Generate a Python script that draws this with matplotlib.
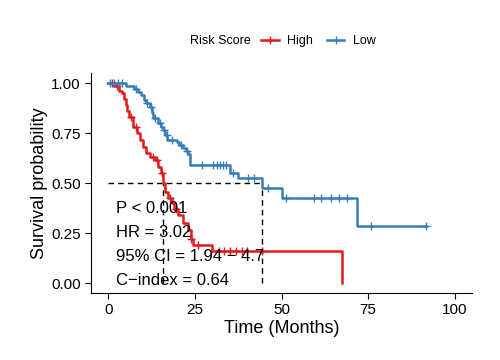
import numpy as np
import matplotlib
matplotlib.use("Agg")
import matplotlib.pyplot as plt
from matplotlib.lines import Line2D

plt.rcParams['font.family'] = ['Liberation Sans', 'DejaVu Sans']

# Kaplan-Meier steps: (time, survival after the drop)
high_time = [0, 1.5, 3.0, 4.0, 4.5, 5.0, 5.5, 6.0, 7.2, 8.3, 9.2, 10.0, 11.0, 12.0,
             13.5, 14.4, 15.2, 15.8, 16.4, 17.2, 18.4, 19.0, 20.0, 21.5, 23.0, 24.0,
             24.4, 30.0, 67.5]
high_surv = [1.0, 0.985, 0.96, 0.95, 0.92, 0.89, 0.86, 0.83, 0.78, 0.75, 0.715, 0.68,
             0.65, 0.63, 0.615, 0.58, 0.55, 0.5, 0.455, 0.425, 0.40, 0.37, 0.34, 0.30,
             0.265, 0.22, 0.19, 0.16, 0.0]
high_censor = [1.0, 2.5, 6.5, 8.0, 13.0, 14.0, 15.5, 17.8, 19.5, 24.0, 26.0,
               32.0, 33.3, 35.0, 37.0, 38.5, 40.0, 44.3]

low_time = [0, 5.0, 7.5, 8.5, 9.5, 10.2, 11.0, 12.0, 12.6, 13.0, 14.4, 15.2, 15.8,
            16.5, 17.0, 19.8, 20.5, 21.6, 22.3, 23.0, 23.6, 35.0, 37.4, 44.3, 50.0,
            71.8, 91.7]
low_surv = [1.0, 0.985, 0.97, 0.955, 0.94, 0.915, 0.9, 0.88, 0.85, 0.825, 0.80, 0.78,
            0.765, 0.74, 0.715, 0.705, 0.69, 0.675, 0.66, 0.645, 0.59, 0.55, 0.525,
            0.475, 0.425, 0.285, 0.285]
low_censor = [0.6, 1.7, 2.9, 4.0, 8.0, 11.3, 12.3, 13.5, 14.8, 16.0, 16.8, 18.5, 21.0,
              22.8, 27.0, 30.2, 31.3, 32.2, 33.0, 33.9, 36.0, 40.2, 42.2, 46.0,
              51.4, 59.5, 61.5, 64.4, 66.7, 69.0, 75.9, 91.7]

median_high = 15.8
median_low = 44.3

stats_text = ["P < 0.001", "HR = 3.02", "95% CI = 1.94 \u2212 4.7", "C\u2212index = 0.64"]

RED = "#E41A1C"
BLUE = "#377EB8"


def surv_at(times, survs, t):
    idx = np.searchsorted(times, t, side='right') - 1
    return np.asarray(survs)[idx]


fig = plt.figure(figsize=(5, 3.6), dpi=100)
ax = fig.add_axes([0.182, 0.186, 0.762, 0.611])

for times, survs, cens, color in [(high_time, high_surv, high_censor, RED),
                                  (low_time, low_surv, low_censor, BLUE)]:
    ax.step(times, survs, where='post', color=color, lw=1.8, zorder=3)
    ax.plot(cens, surv_at(times, survs, cens), ls='none', marker='+',
            ms=6, mew=1.0, color=color, zorder=3)

# median lines
ax.plot([0, median_low], [0.5, 0.5], ls=(0, (4, 3)), color='black', lw=1, zorder=2)
for m in (median_high, median_low):
    ax.plot([m, m], [0, 0.5], ls=(0, (4, 3)), color='black', lw=1, zorder=2)

for i, s in enumerate(stats_text):
    ax.text(2.3, 0.375 - 0.12 * i, s, fontsize=12, va='center', ha='left', zorder=4)

ax.set_xlim(-5, 105)
ax.set_ylim(-0.05, 1.05)
ax.set_xticks([0, 25, 50, 75, 100])
ax.set_yticks([0, 0.25, 0.5, 0.75, 1.0])
ax.set_yticklabels(["0.00", "0.25", "0.50", "0.75", "1.00"])
ax.tick_params(labelsize=11, length=4, width=0.8, colors='black')
ax.spines['right'].set_visible(False)
ax.spines['top'].set_visible(False)
ax.set_xlabel("Time (Months)", fontsize=13, labelpad=2)
ax.set_ylabel("Survival probability", fontsize=13, labelpad=2)

fig.text(0.38, 0.885, "Risk Score", fontsize=9, va='center', ha='left')
handles = [Line2D([], [], color=RED, lw=1.8, marker='+', ms=6, mew=1.0),
           Line2D([], [], color=BLUE, lw=1.8, marker='+', ms=6, mew=1.0)]
fig.legend(handles, ["High", "Low"], ncol=2, frameon=False, fontsize=9,
           loc='center left', bbox_to_anchor=(0.522, 0.885), handlelength=1.4,
           handletextpad=0.7, columnspacing=1.1, borderaxespad=0, borderpad=0)

fig.savefig("out.png", dpi=100)
